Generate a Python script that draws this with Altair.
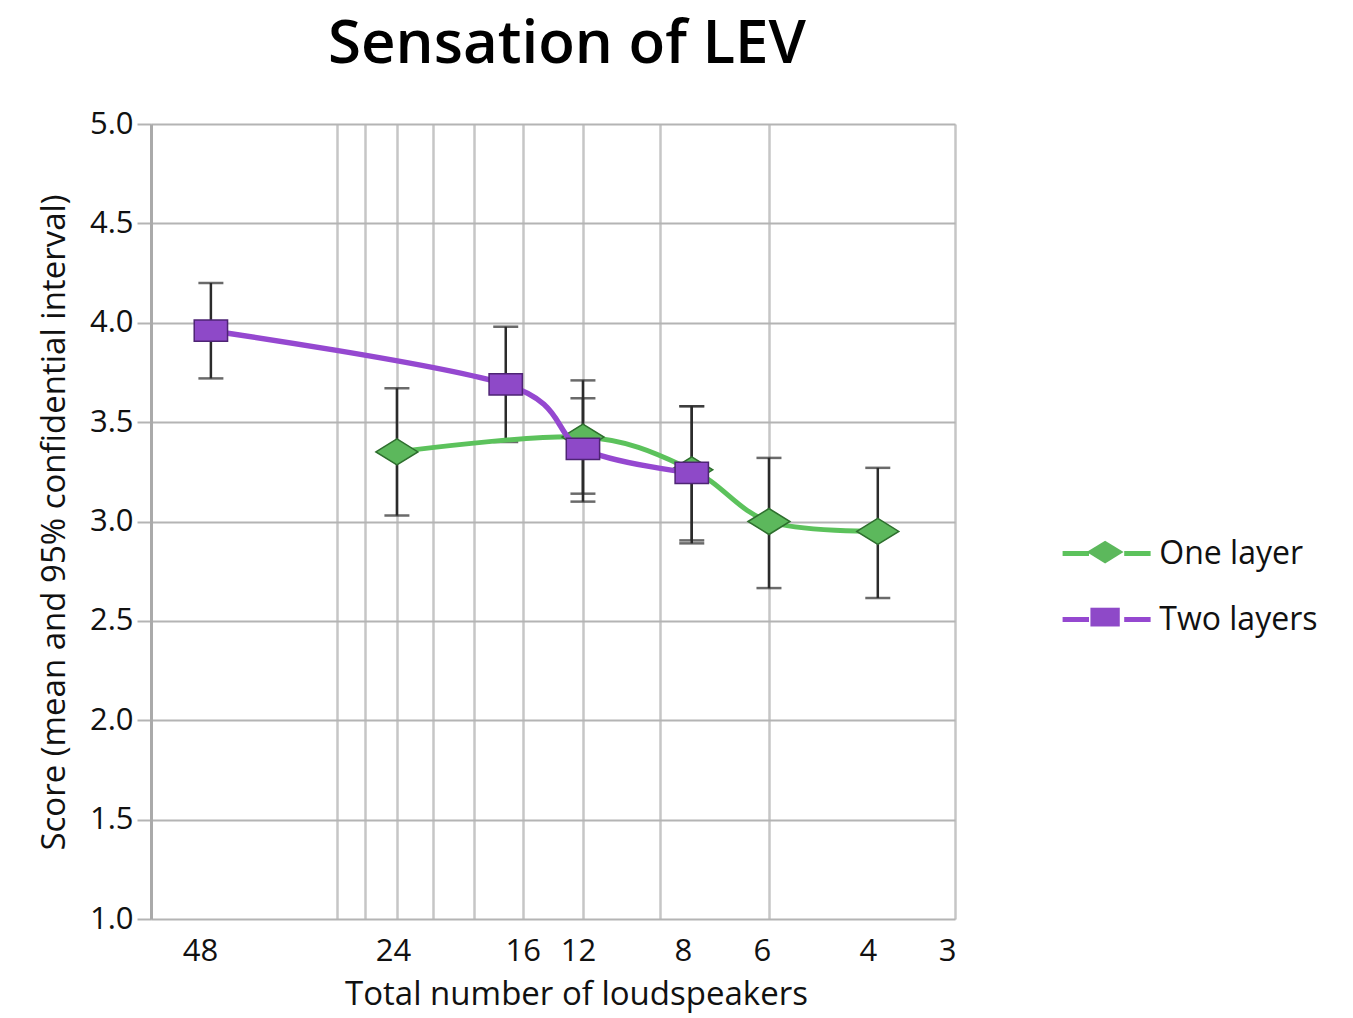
import altair as alt
import pandas as pd

# ---- data ----
series_names = ["One layer", "Two layers"]

speakers_one = [24, 12, 8, 6, 4]
mean_one = [3.35, 3.425, 3.26, 3.00, 2.95]
lo_one = [3.03, 3.14, 2.905, 2.665, 2.615]
hi_one = [3.67, 3.71, 3.58, 3.32, 3.27]

speakers_two = [48, 16, 12, 8]
mean_two = [3.96, 3.69, 3.365, 3.245]
lo_two = [3.72, 3.40, 3.10, 2.89]
hi_two = [4.20, 3.98, 3.62, 3.58]

x_tick_labels = [48, 24, 16, 12, 8, 6, 4, 3]
x_grid_values = [3, 6, 9, 12, 15, 18, 21, 24, 27, 30]
y_ticks = [1.0, 1.5, 2.0, 2.5, 3.0, 3.5, 4.0, 4.5, 5.0]

FONT = "Open Sans"
GREEN_LINE = "#5cc25c"
GREEN_FILL = "#5cb85c"
GREEN_EDGE = "#2e6f2e"
PURPLE_LINE = "#9548d0"
PURPLE_FILL = "#8e49c8"
PURPLE_EDGE = "#4e2474"

def frame(name, sp, mean, lo, hi):
    d = pd.DataFrame({"speakers": sp, "mean": mean, "lo": lo, "hi": hi})
    d["series"] = name
    d["series_pt"] = name
    return d

df_one = frame(series_names[0], speakers_one, mean_one, lo_one, hi_one)
df_two = frame(series_names[1], speakers_two, mean_two, lo_two, hi_two)
df_all = pd.concat([df_one, df_two], ignore_index=True)

label_list = ",".join(str(v) for v in x_tick_labels)
offset_expr = ("datum.value == 48 ? -11 : datum.value == 24 ? -4 : datum.value == 16 ? 17 : "
               "datum.value == 12 ? -5 : datum.value == 8 ? -9 : datum.value == 6 ? -7 : "
               "datum.value == 4 ? -10 : datum.value == 3 ? -8 : 0")
grid_expr = "(datum.value % 3 == 0 && datum.value <= 30) ? 1 : 0"

x_axis = alt.Axis(
    values=sorted(set(x_grid_values + x_tick_labels)),
    labelExpr=f"indexof([{label_list}], datum.value) >= 0 ? datum.value + '' : ''",
    labelOffset=alt.ExprRef(expr=offset_expr),
    gridOpacity=alt.ExprRef(expr=grid_expr),
    grid=True, gridColor="#c6c6c6", gridWidth=2.5,
    ticks=False, domain=False,
    labelFont=FONT, labelFontSize=31, labelColor="#111111", labelPadding=17,
    labelFlush=False, labelOverlap=False,
    title="Total number of loudspeakers",
    titleFont=FONT, titleFontSize=33, titleFontWeight="normal", titleColor="#111111",
    titleX=425, titleY=85, titleBaseline="alphabetic", titleAlign="center",
)
y_axis = alt.Axis(
    values=y_ticks, format=".1f",
    grid=True, gridColor="#b4b4b4", gridWidth=2,
    ticks=True, tickSize=14, tickColor="#b4b4b4", tickWidth=2,
    domain=True, domainColor="#aaaaaa", domainWidth=3,
    labelFont=FONT, labelFontSize=31, labelColor="#111111", labelPadding=4,
    title="Score (mean and 95% confidential interval)",
    titleFont=FONT, titleFontSize=33, titleFontWeight="normal", titleColor="#111111",
    titleAngle=270, titleX=-87, titleY=398, titleBaseline="alphabetic", titleAlign="center",
)

x_scale = alt.Scale(type="log", domain=[3, 60], reverse=True, nice=False)
y_scale = alt.Scale(domain=[1, 5], nice=False, zero=False)

X = alt.X("speakers:Q", scale=x_scale, axis=x_axis)
Y = alt.Y("mean:Q", scale=y_scale, axis=y_axis)

diamond = "M-0.63,0L0,-0.39L0.63,0L0,0.39Z"
square = "M-0.5,-0.32H0.5V0.32H-0.5Z"

stroke_scale = alt.Scale(range=[GREEN_LINE, PURPLE_LINE])
fill_scale = alt.Scale(range=[GREEN_FILL, PURPLE_FILL])
shape_scale = alt.Scale(range=[diamond, square])

LEG_X, LEG_Y = 923.6, 397.6
legend_lines = alt.Legend(
    title=None, orient="none", legendX=LEG_X, legendY=LEG_Y, padding=0,
    symbolType="M-1.5,0H-0.6M0.6,0H1.5", symbolSize=3443, symbolStrokeWidth=5,
    labelFont=FONT, labelFontSize=32, labelColor="#111111", labelOffset=20.7,
    rowPadding=18,
)
legend_points = alt.Legend(
    title=None, orient="none", legendX=LEG_X, legendY=LEG_Y, padding=0,
    symbolSize=3443, symbolStrokeColor="rgba(0,0,0,0.45)", symbolStrokeWidth=1.5,
    labelFont=FONT, labelFontSize=32, labelExpr="''", labelOffset=20.7,
    rowPadding=18,
)

base_all = alt.Chart(df_all)
err = base_all.mark_rule(color="#2b2b2b", strokeWidth=2.5).encode(
    x=X, y=alt.Y("lo:Q", scale=y_scale, axis=y_axis), y2="hi:Q")
cap_lo = base_all.mark_tick(orient="horizontal", color="#2b2b2b", thickness=2.5, size=25).encode(
    x=X, y=alt.Y("lo:Q", scale=y_scale, axis=y_axis))
cap_hi = base_all.mark_tick(orient="horizontal", color="#2b2b2b", thickness=2.5, size=25).encode(
    x=X, y=alt.Y("hi:Q", scale=y_scale, axis=y_axis))

def line_layer(df, width):
    return alt.Chart(df).mark_line(interpolate="cardinal", strokeWidth=width, strokeCap="round").encode(
        x=X, y=Y, stroke=alt.Stroke("series:N", scale=stroke_scale, legend=legend_lines))

def point_layer(df, edge):
    return alt.Chart(df).mark_point(filled=True, size=4444, opacity=1, stroke=edge, strokeWidth=1.5).encode(
        x=X, y=Y,
        fill=alt.Fill("series_pt:N", scale=fill_scale, legend=legend_points),
        shape=alt.Shape("series_pt:N", scale=shape_scale, legend=legend_points))

chart = alt.layer(
    err, cap_lo, cap_hi,
    line_layer(df_one, 5), point_layer(df_one, GREEN_EDGE),
    line_layer(df_two, 5.5), point_layer(df_two, PURPLE_EDGE),
).properties(
    width=804, height=795,
    title=alt.TitleParams("Sensation of LEV", font=FONT, fontSize=60, fontWeight=600,
                          color="#000000", anchor="middle", frame="group", dx=14, offset=32),
    autosize=alt.AutoSizeParams(type="none"),
    padding={"left": 143, "top": 116, "right": 390, "bottom": 94},
).configure_view(strokeWidth=0).configure(background="white")

chart.save("out.html", embed_options={"renderer": "svg", "actions": False})
